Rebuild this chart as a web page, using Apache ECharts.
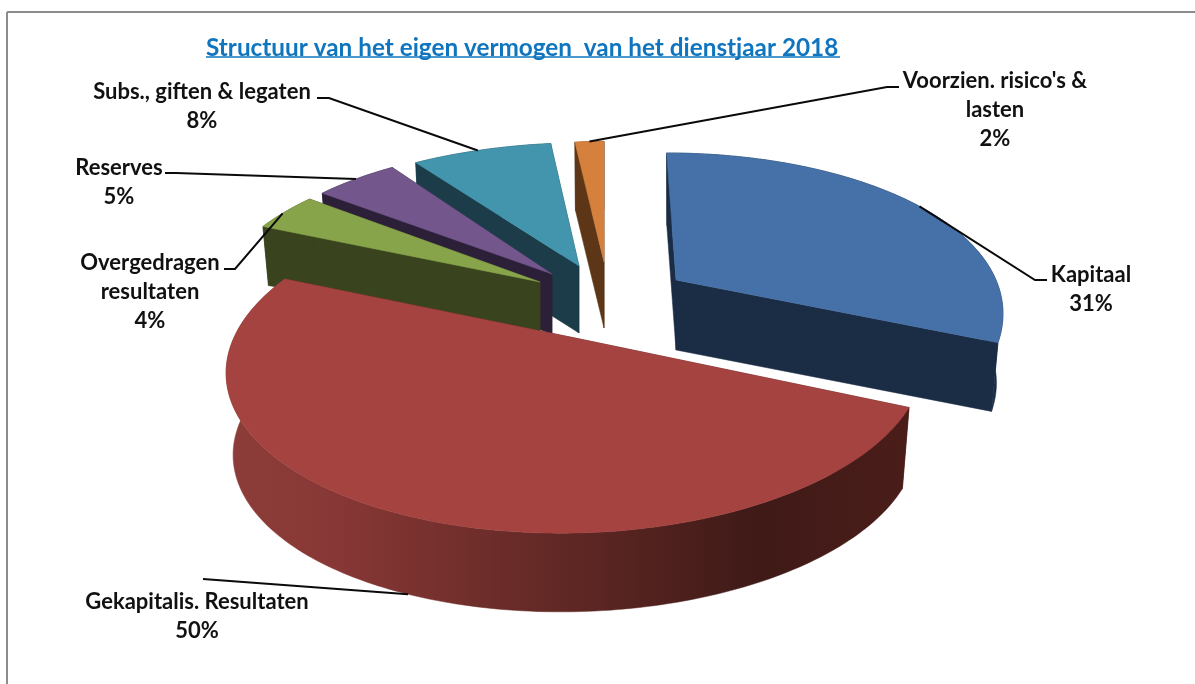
<!DOCTYPE html>
<html><head><meta charset="utf-8">
<style>html,body{margin:0;padding:0;background:#fff}#c{width:1195px;height:684px}</style>
<script src="https://cdn.jsdelivr.net/npm/echarts@6/dist/echarts.min.js"></script>
</head><body><div id="c"></div>
<script>
// Data, in clockwise order starting from the top of the pie
const titleText = "Structuur van het eigen vermogen  van het dienstjaar 2018";
const categories = ["Kapitaal", "Gekapitalis. Resultaten", "Overgedragen\nresultaten", "Reserves", "Subs., giften & legaten", "Voorzien. risico's &\nlasten"];
const values = [31, 50, 4, 5, 8, 2];

// Styling of the exploded, tilted pie
const topColors  = ["#4571a8", "#a54341", "#88a44b", "#73568c", "#4295ad", "#d5803c"];
const sideColors = ["#1b2d45", "#5a2522", "#39431e", "#2c2039", "#1b3c48", "#5c3617"];
const apexX  = [676, 575, 540, 552, 579, 604];
const apexY  = [280, 338, 282, 274, 266, 262];
const radius = [320, 349, 323, 322, 340, 285];
const tilt   = [1, 1, 1, 1, 0.97, 0.95];
const perspX = [0.172, 0.325, 0.228, 0.228, 0.228, 0.228];
const shearX = [-11, 0, 0, 0, 8, 0];
const shearY = [0, 9, 3, 0, 0, 0];
const depth  = [70, 82, 58, 60, 67, 66];
const bottomScale = [0.98, 0.98, 0.98, 0.98, 0.98, 0.98];
const paintOrder  = [0, 5, 4, 3, 2, 1];
const tiltY = 156, persp = 0.228;
// The large front slice follows a single ellipse whose centre lies in front of the apex
const frontMinor = 167, frontRotDeg = -1.5, frontStartDeg = 17.5, frontEndDeg = 214.5, frontCentreDrop = 28;

// Labels: text centre, first row, leader route
const labelX = [1091, 197, 150, 119, 202, 995];
const labelY = [274, 601, 262, 167, 91, 80];
const leaderFrac = [0.52, 0.52, 0.45, 0.5, 0.47, 0.5];
const leaderElbowX = [[1035, 1047], [203], [235, 224], [176, 165], [329, 317], [887, 899]];
const leaderElbowY = [[280, 280], [579], [269, 269], [173, 173], [98, 98], [87, 87]];

const total = values.reduce((a, b) => a + b, 0);
const starts = []; let acc = 0;
values.forEach(v => { starts.push(acc / total * Math.PI * 2); acc += v; });

function rim(i, t, bottom) {
  const f = bottom ? bottomScale[i] : 1;
  let dx, dy;
  if (i === 1) {
    const u = (t - starts[1]) / (values[1] / total * Math.PI * 2);
    const p = (frontStartDeg + (frontEndDeg - frontStartDeg) * u) * Math.PI / 180, r = frontRotDeg * Math.PI / 180;
    const ca = radius[i] * Math.cos(p), cb = frontMinor * Math.sin(p);
    dx = (ca * Math.cos(r) - cb * Math.sin(r)) * f;
    dy = (ca * Math.sin(r) + cb * Math.cos(r)) * f + frontCentreDrop;
  } else {
    const X = Math.sin(t), Y = Math.cos(t);
    const s = 1 / (1 + persp * Y), sx = 1 / (1 + perspX[i] * Y);
    dx = (radius[i] * X + shearX[i] * Y) * sx * f;
    dy = (-tiltY * tilt[i] * Y + shearY[i] * X) * s * f;
  }
  return [apexX[i] + dx, apexY[i] + dy + (bottom ? depth[i] : 0)];
}
function arc(i, a, b, bottom) {
  const n = Math.max(4, Math.ceil((b - a) / 0.02)), pts = [];
  for (let k = 0; k <= n; k++) pts.push(rim(i, a + (b - a) * k / n, bottom));
  return pts;
}

function renderItem(params) {
  const i = params.dataIndex;
  const a = starts[i], b = a + values[i] / total * Math.PI * 2;
  const apex = [apexX[i], apexY[i]], apexB = [apexX[i], apexY[i] + depth[i]];
  const z = paintOrder.indexOf(i) * 5 + 1;
  const side = i === 1
    ? new echarts.graphic.LinearGradient(232, 0, 905, 0, [
        {offset: 0, color: "#8c3d39"}, {offset: 0.16, color: "#873735"},
        {offset: 0.34, color: "#722f2c"}, {offset: 0.55, color: "#5a2522"},
        {offset: 0.78, color: "#3f1a17"}, {offset: 1, color: "#4a1d19"}], true)
    : sideColors[i];
  const poly = (points, fill, zz) => ({type: "polygon", shape: {points}, z2: zz, silent: true,
    style: {fill, stroke: fill, lineWidth: 0.5}});
  const topArc = arc(i, a, b, false), botArc = arc(i, a, b, true);
  const children = [
    poly([rim(i, a, false), apex, apexB, rim(i, a, true)], sideColors[i], z),
    poly([rim(i, b, false), apex, apexB, rim(i, b, true)], sideColors[i], z),
    poly(topArc.concat(botArc.slice().reverse()), side, z + 1),
    poly([apex].concat(topArc), topColors[i], z + 2)
  ];
  const anchor = rim(i, a + (b - a) * leaderFrac[i], i === 1);
  const route = [anchor].concat(leaderElbowX[i].map((x, k) => [x, leaderElbowY[i][k]]));
  children.push({type: "polyline", shape: {points: route}, z2: 100, silent: true,
    style: {fill: null, stroke: "#0a0a0a", lineWidth: 2}});
  children.push({type: "text", x: labelX[i], y: labelY[i] - 14, z2: 101, silent: true,
    style: {text: categories[i] + "\n" + values[i] + "%", align: "center", verticalAlign: "top",
      font: "bold 22px Lato", lineHeight: 29, fill: "#111"}});
  return {type: "group", children};
}

const chart = echarts.init(document.getElementById("c"), null, {renderer: "canvas"});
chart.setOption({
  animation: false,
  backgroundColor: "#fff",
  title: {text: titleText, left: 201, top: 31,
    textStyle: {fontFamily: "Lato", fontWeight: "bold", fontSize: 24.3, color: "#0f75bf"}},
  graphic: [
    {type: "line", shape: {x1: 7, y1: 684, x2: 7, y2: 12}, style: {stroke: "#8c8c8c", lineWidth: 2}, silent: true},
    {type: "line", shape: {x1: 7, y1: 12, x2: 1195, y2: 12}, style: {stroke: "#8c8c8c", lineWidth: 2}, silent: true},
    {type: "line", shape: {x1: 206, y1: 57, x2: 840, y2: 57}, style: {stroke: "#0f75bf", lineWidth: 1.5}, silent: true}
  ],
  series: [{type: "custom", coordinateSystem: "none", renderItem, data: values, clip: false}]
});
</script></body></html>
